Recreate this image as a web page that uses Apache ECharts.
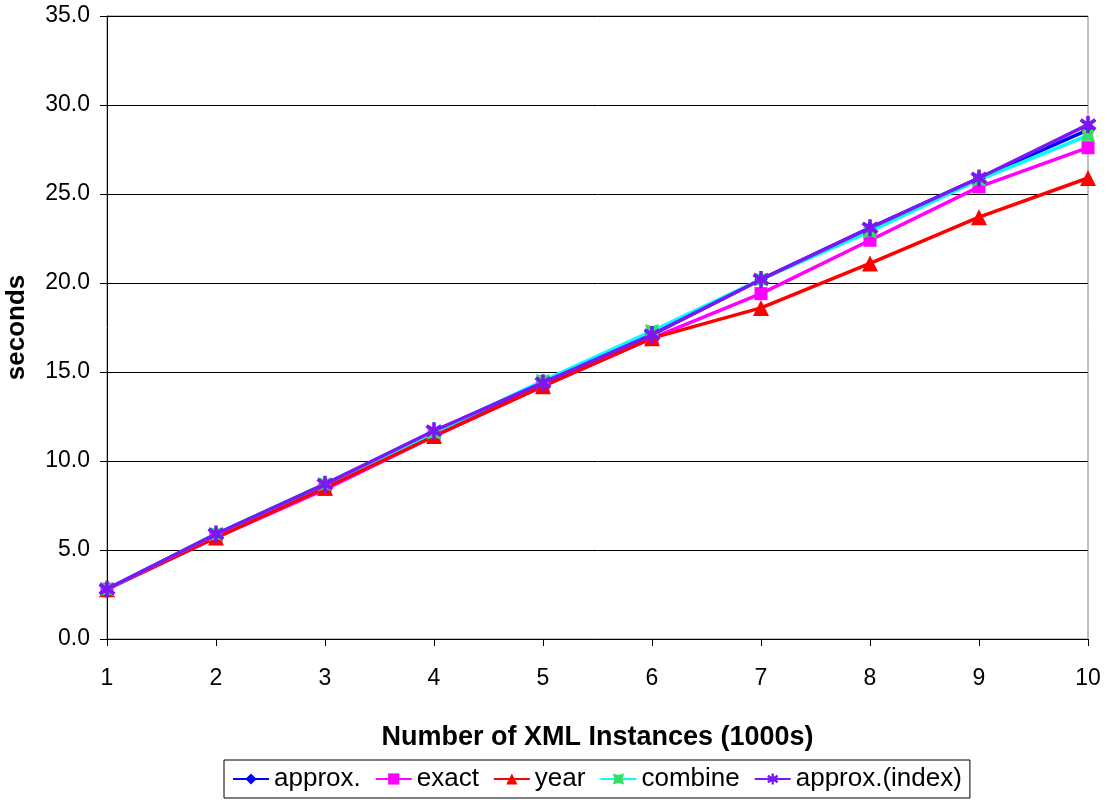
<!DOCTYPE html>
<html><head><meta charset="utf-8">
<script src="https://cdn.jsdelivr.net/npm/echarts@6/dist/echarts.min.js"></script>
<style>html,body{margin:0;padding:0;background:#fff}#c{width:1107px;height:803px}</style>
</head><body><div id="c"></div>
<script>
const xValues = [1,2,3,4,5,6,7,8,9,10];
const approx = [2.8,5.9,8.7,11.6,14.4,17.1,20.2,23.1,25.9,28.6];
const exact = [2.8,5.7,8.4,11.4,14.2,16.9,19.4,22.4,25.4,27.6];
const year = [2.8,5.7,8.5,11.4,14.2,16.9,18.6,21.1,23.7,25.9];
const combine = [2.8,5.9,8.7,11.6,14.5,17.3,20.2,22.9,25.8,28.3];
const approxIndex = [2.8,5.9,8.7,11.7,14.4,17.1,20.2,23.1,25.9,28.9];
const seriesNames = ['approx.','exact','year','combine','approx.(index)'];

const FONT = '"Liberation Sans", Arial, sans-serif';
const asterisk = 'path://M8,0 L12,0 L12,6 L17,2.5 L19.5,6 L14.5,10 L19.5,14 L17,17.5 L12,14 L12,20 L8,20 L8,14 L3,17.5 L0.5,14 L5.5,10 L0.5,6 L3,2.5 L8,6 Z';
const notchSq = 'path://M0,0 L10,3 L20,0 L17,10 L20,20 L10,17 L0,20 L3,10 Z';

function mk(name, data, color, symbol, size, mcolor) {
  return {
    name, type: 'line', data: data.map((v,i)=>[xValues[i], v]),
    symbol, symbolSize: size, showSymbol: true,
    lineStyle: {color, width: 3.5},
    itemStyle: {color: mcolor || color, borderWidth: 0},
    emphasis: {disabled: true}, animation: false
  };
}

const chart = echarts.init(document.getElementById('c'), null, {renderer:'canvas'});
chart.setOption({
  animation: false,
  grid: {left: 107, right: 19, top: 16, bottom: 164, show: true, borderColor: '#808080', borderWidth: 1,
         containLabel: false, outerBoundsMode: 'none'},
  xAxis: {
    type: 'value', min: 1, max: 10, interval: 1,
    name: 'Number of XML Instances (1000s)', nameLocation: 'middle', nameGap: 85,
    nameTextStyle: {fontFamily: FONT, fontSize: 27, fontWeight: 'bold', color: '#000'},
    axisLine: {show: true, onZero: false, lineStyle: {color: '#000', width: 1}},
    axisTick: {show: true, length: 7, lineStyle: {color: '#000'}},
    axisLabel: {fontFamily: FONT, fontSize: 23, color: '#000', margin: 28},
    splitLine: {show: false}
  },
  yAxis: {
    type: 'value', min: 0, max: 35, interval: 5,
    name: 'seconds', nameLocation: 'middle', nameGap: 77, nameRotate: 90,
    nameTextStyle: {fontFamily: FONT, fontSize: 26, fontWeight: 'bold', color: '#000'},
    axisLine: {show: true, lineStyle: {color: '#000', width: 1}},
    axisTick: {show: true, length: 7, lineStyle: {color: '#000'}},
    axisLabel: {fontFamily: FONT, fontSize: 23, color: '#000', margin: 17, formatter: v => v.toFixed(1)},
    splitLine: {show: true, lineStyle: {color: '#000', width: 1}}
  },
  legend: {
    top: 760, left: 224,
    data: seriesNames,
    itemWidth: 36, itemHeight: 14, itemGap: 14,
    padding: [6, 8, 6, 8],
    borderColor: '#000', borderWidth: 1,
    textStyle: {fontFamily: FONT, fontSize: 26, color: '#000'},
    selectedMode: false
  },
  series: [
    mk('approx.', approx, '#0000FF', 'diamond', 13),
    mk('exact', exact, '#FF00FF', 'rect', 13),
    mk('year', year, '#FF0000', 'triangle', 16),
    mk('combine', combine, '#00FFFF', notchSq, 14, '#33E060'),
    mk('approx.(index)', approxIndex, '#7B16F5', asterisk, 17)
  ]
});
</script></body></html>
